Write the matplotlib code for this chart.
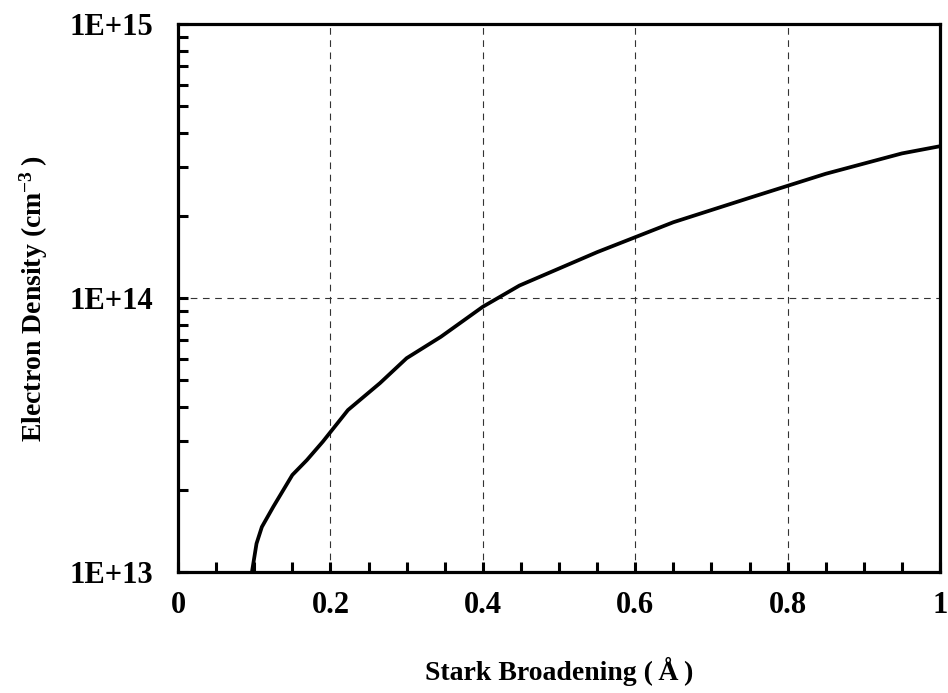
import matplotlib
matplotlib.use('Agg')
import matplotlib.pyplot as plt
from matplotlib.ticker import FixedLocator, MultipleLocator, LogLocator, NullFormatter

# curve
stark_width = [0.097, 0.103, 0.11, 0.125, 0.15, 0.169, 0.19, 0.223, 0.265, 0.30,
               0.345, 0.40, 0.448, 0.55, 0.65, 0.75, 0.85, 0.95, 1.0]
electron_density = [1.0e13, 1.27e13, 1.46e13, 1.73e13, 2.26e13, 2.56e13, 2.99e13, 3.90e13, 4.89e13, 6.03e13,
                    7.22e13, 9.29e13, 1.11e14, 1.47e14, 1.89e14, 2.32e14, 2.84e14, 3.37e14, 3.58e14]

x_ticks = [0, 0.2, 0.4, 0.6, 0.8, 1.0]
x_tick_labels = ['0', '0.2', '0.4', '0.6', '0.8', '1']
y_ticks = [1e13, 1e14, 1e15]
y_tick_labels = ['1E+13', '1E+14', '1E+15']

plt.rcParams['font.family'] = ['Liberation Serif', 'DejaVu Serif']
plt.rcParams['font.weight'] = 'bold'
plt.rcParams['mathtext.fontset'] = 'custom'
plt.rcParams['mathtext.rm'] = 'Liberation Serif:bold'
plt.rcParams['mathtext.bf'] = 'Liberation Serif:bold'
plt.rcParams['mathtext.it'] = 'Liberation Serif:bold:italic'
plt.rcParams['mathtext.default'] = 'rm'

fig = plt.figure(figsize=(9.48, 6.93), dpi=100)
ax = fig.add_axes([0.1878, 0.1746, 0.8038, 0.7908])

ax.plot(stark_width, electron_density, color='black', linewidth=2.7,
        solid_joinstyle='round', zorder=3)

ax.set_yscale('log')
ax.set_xlim(0, 1)
ax.set_ylim(1e13, 1e15)

# dashed grid
for xv in x_ticks[1:-1]:
    ax.axvline(xv, color='#333333', linewidth=0.8, dashes=(6, 5), zorder=1)
ax.axhline(y_ticks[1], color='#333333', linewidth=0.8, dashes=(6, 5), zorder=1)

ax.xaxis.set_major_locator(FixedLocator(x_ticks))
ax.set_xticklabels(x_tick_labels)
ax.xaxis.set_minor_locator(MultipleLocator(0.05))
ax.yaxis.set_major_locator(FixedLocator(y_ticks))
ax.set_yticklabels(y_tick_labels)
ax.yaxis.set_minor_locator(LogLocator(base=10, subs=range(2, 10)))
ax.yaxis.set_minor_formatter(NullFormatter())

ax.tick_params(axis='both', which='both', direction='in', width=2.2, length=7,
               top=False, right=False, labelsize=22)
ax.tick_params(axis='x', which='major', pad=14)
ax.tick_params(axis='y', which='major', pad=18)

for sp in ax.spines.values():
    sp.set_linewidth(2.3)

ax.set_xlabel('Stark Broadening (\u2009Å\u2009)', fontsize=20, fontweight='bold', labelpad=26)
ax.set_ylabel('Electron Density (cm$^{-3}$\u2009)', fontsize=20, fontweight='bold', labelpad=14)

fig.savefig('out.png', dpi=100)
